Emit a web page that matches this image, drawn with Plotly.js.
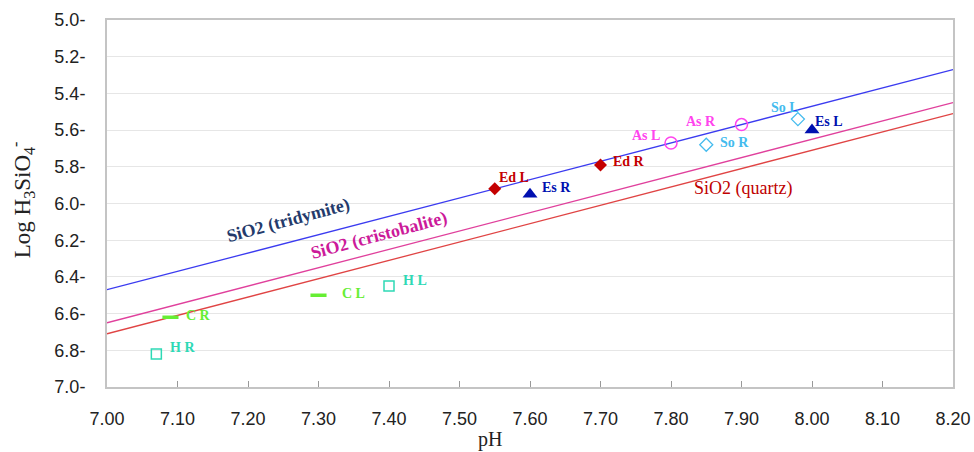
<!DOCTYPE html>
<html>
<head>
<meta charset="utf-8">
<script src="https://cdn.plot.ly/plotly-3.0.1.min.js"></script>
<style>html,body{margin:0;padding:0;background:#fff;}#chart{width:974px;height:452px;}</style>
</head>
<body>
<div id="chart"></div>
<script>
// Equilibrium lines (pH vs Log H3SiO4-)
const lineX = [7.0, 8.2];
const tridymiteY = [6.47, 5.27];
const cristobaliteY = [6.65, 5.45];
const quartzY = [6.71, 5.51];

// Sample points
const hX = [7.07, 7.40];      const hY = [6.82, 6.45];      const hLabels = ['H R', 'H L'];
const cX = [7.09, 7.30];      const cY = [6.62, 6.50];      const cLabels = ['C R', 'C L'];
const edX = [7.55, 7.70];     const edY = [5.92, 5.79];     const edLabels = ['Ed L', 'Ed R'];
const esX = [7.60, 8.00];     const esY = [5.95, 5.60];     const esLabels = ['Es R', 'Es L'];
const asX = [7.80, 7.90];     const asY = [5.67, 5.57];     const asLabels = ['As L', 'As R'];
const soX = [7.85, 7.98];     const soY = [5.68, 5.54];     const soLabels = ['So R', 'So L'];

const xTicks = [7.0, 7.1, 7.2, 7.3, 7.4, 7.5, 7.6, 7.7, 7.8, 7.9, 8.0, 8.1, 8.2];
const yTicks = [5.0, 5.2, 5.4, 5.6, 5.8, 6.0, 6.2, 6.4, 6.6, 6.8, 7.0];
const xTickText = xTicks.map(v => v.toFixed(2));
const yTickText = yTicks.map(v => v.toFixed(1) + '-');

const serif = 'Liberation Serif, DejaVu Serif, serif';
const sans = 'Liberation Sans, Arial, sans-serif';

const traces = [
  {x: lineX, y: tridymiteY, mode: 'lines', line: {color: '#3b3bf0', width: 1.3}},
  {x: lineX, y: cristobaliteY, mode: 'lines', line: {color: '#e0409c', width: 1.3}},
  {x: lineX, y: quartzY, mode: 'lines', line: {color: '#e04444', width: 1.3}},
  {x: hX, y: hY, mode: 'markers', marker: {symbol: 'square-open', size: 10, color: '#2ed9b5', line: {width: 1.5, color: '#2ed9b5'}}},
  {x: cX, y: cY, mode: 'markers', marker: {symbol: 'line-ew', size: 11.5, color: '#66ee33', line: {width: 3.5, color: '#66ee33'}}},
  {x: edX, y: edY, mode: 'markers', marker: {symbol: 'diamond', size: 10, color: '#c40000'}},
  {x: esX, y: esY, mode: 'markers', marker: {symbol: 'triangle-up', size: 13, color: '#0010b0'}},
  {x: asX, y: asY, mode: 'markers', marker: {symbol: 'circle-open', size: 12, color: '#ff44ee', line: {width: 1.5, color: '#ff44ee'}}},
  {x: soX, y: soY, mode: 'markers', marker: {symbol: 'diamond-open', size: 10, color: '#44bbee', line: {width: 1.3, color: '#44bbee'}}}
];

function lbl(x, y, text, color, xanchor, xshift, yshift) {
  return {x: x, y: y, text: '<b>' + text + '</b>', showarrow: false, xanchor: xanchor, yanchor: 'middle',
          xshift: xshift, yshift: yshift, font: {family: serif, size: 14, color: color}};
}
const annotations = [
  lbl(hX[0], hY[0], hLabels[0], '#2ed9b5', 'left', 12, 6),
  lbl(hX[1], hY[1], hLabels[1], '#2ed9b5', 'left', 12, 6),
  lbl(cX[0], cY[0], cLabels[0], '#66ee33', 'left', 14, 2),
  lbl(cX[1], cY[1], cLabels[1], '#66ee33', 'left', 21, 2),
  lbl(edX[0], edY[0], edLabels[0], '#c40000', 'left', 2, 11),
  lbl(edX[1], edY[1], edLabels[1], '#c40000', 'left', 10, 3),
  lbl(esX[0], esY[0], esLabels[0], '#0010b0', 'left', 10, 7),
  lbl(esX[1], esY[1], esLabels[1], '#0010b0', 'left', 1, 9),
  lbl(asX[0], asY[0], asLabels[0], '#ff44ee', 'right', -9, 7),
  lbl(asX[1], asY[1], asLabels[1], '#ff44ee', 'right', -24, 3),
  lbl(soX[0], soY[0], soLabels[0], '#44bbee', 'left', 12, 2),
  lbl(soX[1], soY[1], soLabels[1], '#44bbee', 'right', 3, 12),
  {x: 7.257, y: 6.09, text: '<b>SiO2 (tridymite)</b>', showarrow: false, textangle: -15,
   font: {family: serif, size: 18, color: '#243a6b'}},
  {x: 7.386, y: 6.177, text: '<b>SiO2 (cristobalite)</b>', showarrow: false, textangle: -15,
   font: {family: serif, size: 18, color: '#cc1a9a'}},
  {x: 7.902, y: 5.916, text: 'SiO2 (quartz)', showarrow: false,
   font: {family: serif, size: 18, color: '#c00000'}},
  {xref: 'paper', yref: 'paper', x: -0.100, y: 0.51, xanchor: 'center', yanchor: 'middle', textangle: -90,
   text: 'Log H<sub>3</sub>SiO<sub>4</sub><sup>-</sup>', showarrow: false,
   font: {family: serif, size: 23, color: '#222'}},
  {xref: 'paper', yref: 'paper', x: 0.453, y: -0.144, xanchor: 'center', yanchor: 'middle',
   text: 'pH', showarrow: false, font: {family: serif, size: 20, color: '#222'}}
];

const layout = {
  width: 974, height: 452,
  margin: {l: 107, r: 21, t: 20, b: 65},
  paper_bgcolor: '#ffffff', plot_bgcolor: '#ffffff',
  showlegend: false, hovermode: false,
  xaxis: {
    range: [7.0, 8.2], tickvals: xTicks, ticktext: xTickText,
    ticks: 'inside', ticklen: 6, tickcolor: '#999999', tickwidth: 1,
    ticklabelstandoff: 14,
    showgrid: false, zeroline: false,
    showline: true, linecolor: '#c4c4c4', linewidth: 2, mirror: true,
    tickfont: {family: sans, size: 18, color: '#222'}
  },
  yaxis: {
    range: [7.0, 5.0], tickvals: yTicks, ticktext: yTickText,
    ticks: '', ticklabelstandoff: 16,
    showgrid: true, gridcolor: '#e6e6e6', gridwidth: 1, zeroline: false,
    showline: true, linecolor: '#c4c4c4', linewidth: 2, mirror: true,
    tickfont: {family: sans, size: 18, color: '#222'}
  },
  annotations: annotations
};

Plotly.newPlot('chart', traces, layout, {staticPlot: true, displayModeBar: false});
</script>
</body>
</html>
